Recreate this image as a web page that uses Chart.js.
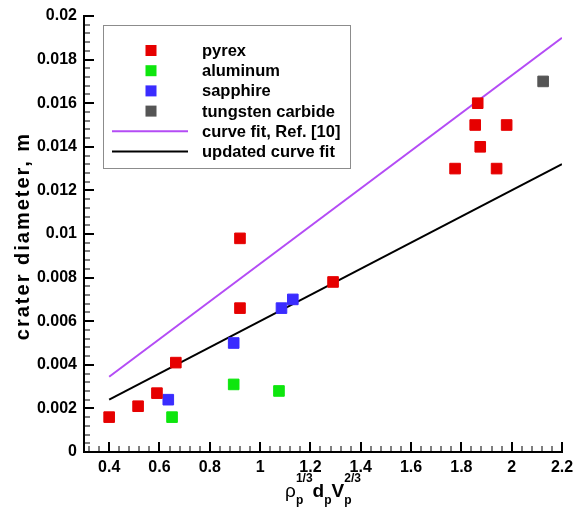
<!DOCTYPE html>
<html>
<head>
<meta charset="utf-8">
<script src="https://cdn.jsdelivr.net/npm/chart.js@4.4.0/dist/chart.umd.min.js"></script>
<style>
  html, body { margin: 0; padding: 0; background: #fff; }
  canvas { display: block; }
</style>
</head>
<body>
<canvas id="craterChart" width="573" height="510"></canvas>
<script>
// Crater diameter (m) against rho^(1/3) * d * V^(2/3), one series per target material
const pyrexX = [0.40, 0.515, 0.59, 0.665, 0.92, 0.92, 1.29, 1.775, 1.855, 1.865, 1.875, 1.94, 1.98];
const pyrexY = [0.0016, 0.0021, 0.0027, 0.0041, 0.0098, 0.0066, 0.0078, 0.0130, 0.0150, 0.0160, 0.0140, 0.0130, 0.0150];

const aluminumX = [0.65, 0.895, 1.075];
const aluminumY = [0.0016, 0.0031, 0.0028];

const sapphireX = [0.635, 0.895, 1.085, 1.13];
const sapphireY = [0.0024, 0.0050, 0.0066, 0.0070];

const tungstenX = [2.125];
const tungstenY = [0.0170];

// straight-line fits, end points only
const fitX = [0.4, 2.2];
const refFitY = [0.00345, 0.0190];
const updatedFitY = [0.0024, 0.0132];

const xTicks = [0.4, 0.6, 0.8, 1.0, 1.2, 1.4, 1.6, 1.8, 2.0, 2.2];
const yTicks = [0, 0.002, 0.004, 0.006, 0.008, 0.01, 0.012, 0.014, 0.016, 0.018, 0.02];

const FONT = '"Liberation Sans", Arial, Helvetica, sans-serif';

function toPoints(xs, ys) {
    return xs.map((x, i) => ({ x: x, y: ys[i] }));
}

function markerSet(label, xs, ys, color) {
    return {
        label: label,
        data: toPoints(xs, ys),
        backgroundColor: color,
        borderColor: color,
        borderWidth: 1,
        pointStyle: 'rect',
        pointRadius: 7.5,
        pointHoverRadius: 7.5,
        order: 0
    };
}

function fitLine(label, ys, color) {
    return {
        label: label,
        data: toPoints(fitX, ys),
        borderColor: color,
        backgroundColor: color,
        borderWidth: 2,
        showLine: true,
        pointRadius: 0,
        pointHoverRadius: 0,
        order: 1
    };
}

// inward major + minor tick marks (tecplot style)
const innerTicks = {
    id: 'innerTicks',
    afterDraw(chart) {
        const { ctx, chartArea, scales } = chart;
        const xs = scales.x, ys = scales.y;
        ctx.save();
        ctx.strokeStyle = '#000';

        const xStep = 0.04;
        for (let i = Math.ceil(xs.min / xStep - 1e-6); i <= Math.floor(xs.max / xStep + 1e-6); i++) {
            const major = i % 5 === 0;
            const px = Math.round(xs.getPixelForValue(i * xStep));
            ctx.lineWidth = major ? 2 : 1;
            ctx.beginPath();
            ctx.moveTo(px, chartArea.bottom);
            ctx.lineTo(px, chartArea.bottom - (major ? 10 : 6));
            ctx.stroke();
        }

        const yStep = 0.0004;
        for (let i = Math.ceil(ys.min / yStep - 1e-6); i <= Math.floor(ys.max / yStep + 1e-6); i++) {
            const major = i % 5 === 0;
            const py = Math.round(ys.getPixelForValue(i * yStep));
            ctx.lineWidth = major ? 2 : 1;
            ctx.beginPath();
            ctx.moveTo(chartArea.left, py);
            ctx.lineTo(chartArea.left + (major ? 10 : 6), py);
            ctx.stroke();
        }
        ctx.restore();
    }
};

// axis titles: y is plain rotated text, x needs sub/superscripts
const axisTitles = {
    id: 'axisTitles',
    afterDraw(chart) {
        const { ctx, chartArea } = chart;
        ctx.save();
        ctx.fillStyle = '#000';

        // y title
        ctx.font = 'bold 20px ' + FONT;
        ctx.letterSpacing = '2px';
        ctx.textAlign = 'center';
        ctx.textBaseline = 'middle';
        ctx.translate(23, (chartArea.top + chartArea.bottom) / 2 + 2);
        ctx.rotate(-Math.PI / 2);
        ctx.fillText('crater diameter, m', 0, 0);
        ctx.setTransform(1, 0, 0, 1, 0, 0);
        ctx.letterSpacing = '0px';

        // x title: ρp^1/3 dp Vp^2/3
        const parts = [
            { base: 'ρ', font: '19px ' + FONT, sub: 'p', sup: '1/3' },
            { base: 'd', font: 'bold 19px ' + FONT, sub: 'p', sup: '' },
            { base: 'V', font: 'bold 19px ' + FONT, sub: 'p', sup: '2/3' }
        ];
        const smallFont = 'bold 12px ' + FONT;
        const baseline = 497;
        ctx.textAlign = 'left';
        ctx.textBaseline = 'alphabetic';

        let total = 0;
        parts.forEach(p => {
            ctx.font = p.font;
            p.w = ctx.measureText(p.base).width;
            ctx.font = smallFont;
            p.sw = Math.max(ctx.measureText(p.sub).width, ctx.measureText(p.sup).width);
            total += p.w + p.sw;
        });

        let x = (chartArea.left + chartArea.right) / 2 - total / 2;
        parts.forEach(p => {
            ctx.font = p.font;
            ctx.fillText(p.base, x, baseline);
            x += p.w;
            ctx.font = smallFont;
            ctx.fillText(p.sub, x, baseline + 7);
            if (p.sup) ctx.fillText(p.sup, x, baseline - 15);
            x += p.sw;
        });
        ctx.restore();
    }
};

// boxed legend in the upper left of the plot
const boxLegend = {
    id: 'boxLegend',
    afterDraw(chart) {
        const { ctx } = chart;
        const box = { left: 103, top: 25, width: 247, height: 143 };
        ctx.save();
        ctx.fillStyle = '#fff';
        ctx.fillRect(box.left, box.top, box.width, box.height);
        ctx.strokeStyle = '#8c8c8c';
        ctx.lineWidth = 1;
        ctx.strokeRect(box.left + 0.5, box.top + 0.5, box.width, box.height);

        ctx.font = 'bold 16.5px ' + FONT;
        ctx.textAlign = 'left';
        ctx.textBaseline = 'middle';
        chart.data.datasets.forEach((ds, i) => {
            const y = 50.5 + i * 20.2;
            if (ds.showLine) {
                ctx.strokeStyle = ds.borderColor;
                ctx.lineWidth = 2;
                ctx.beginPath();
                ctx.moveTo(112, y);
                ctx.lineTo(188, y);
                ctx.stroke();
            } else {
                ctx.fillStyle = ds.backgroundColor;
                ctx.fillRect(145.5, y - 5.5, 11, 11);
            }
            ctx.fillStyle = '#000';
            ctx.fillText(ds.label, 202, y + 1);
        });
        ctx.restore();
    }
};

const tickFont = { family: FONT, size: 16, weight: 'bold' };

new Chart(document.getElementById('craterChart').getContext('2d'), {
    type: 'scatter',
    data: {
        datasets: [
            markerSet('pyrex', pyrexX, pyrexY, '#e60000'),
            markerSet('aluminum', aluminumX, aluminumY, '#0ee60e'),
            markerSet('sapphire', sapphireX, sapphireY, '#3a2cff'),
            markerSet('tungsten carbide', tungstenX, tungstenY, '#555555'),
            fitLine('curve fit, Ref. [10]', refFitY, '#b44cf5'),
            fitLine('updated curve fit', updatedFitY, '#000000')
        ]
    },
    options: {
        responsive: false,
        animation: false,
        layout: { padding: { top: 16, right: 11, left: 0, bottom: 0 } },
        plugins: {
            legend: { display: false },
            tooltip: { enabled: false }
        },
        scales: {
            x: {
                type: 'linear',
                min: 0.3,
                max: 2.2,
                afterBuildTicks: scale => { scale.ticks = xTicks.map(v => ({ value: v })); },
                afterFit: scale => {
                    scale.height = 58;
                    scale.paddingLeft = 0;
                    scale.paddingRight = 0;
                },
                grid: { display: false, drawTicks: false },
                border: { display: true, color: '#000', width: 2 },
                ticks: {
                    color: '#000',
                    font: tickFont,
                    padding: 6,
                    maxRotation: 0,
                    autoSkip: false,
                    callback: v => String(v)
                }
            },
            y: {
                type: 'linear',
                min: 0,
                max: 0.02,
                afterBuildTicks: scale => { scale.ticks = yTicks.map(v => ({ value: v })); },
                afterFit: scale => {
                    scale.width = 84;
                    scale.paddingTop = 0;
                    scale.paddingBottom = 0;
                },
                grid: { display: false, drawTicks: false },
                border: { display: true, color: '#000', width: 2 },
                ticks: {
                    color: '#000',
                    font: tickFont,
                    padding: 7,
                    autoSkip: false,
                    callback: v => String(+v.toFixed(3))
                }
            }
        }
    },
    plugins: [innerTicks, axisTitles, boxLegend]
});
</script>
</body>
</html>
